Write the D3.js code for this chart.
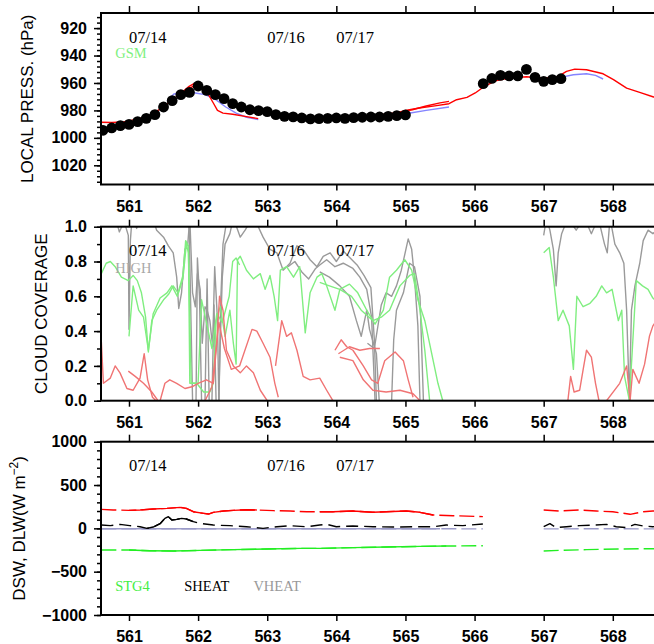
<!DOCTYPE html>
<html>
<head>
<meta charset="utf-8">
<script src="https://cdn.jsdelivr.net/npm/d3@7"></script>
<style>
body { margin: 0; background: #fff; }
svg { display: block; }
.tick text { font-family: "Liberation Sans", Arial, sans-serif; font-size: 16px; font-weight: bold; fill: #000; }
.tick line { stroke: #000; stroke-width: 1.5; }
.title { font-family: "Liberation Sans", Arial, sans-serif; font-size: 17px; }
.note { font-family: "Liberation Serif", "Times New Roman", serif; }
</style>
</head>
<body>
<div id="chart"></div>
<script>
// ---- shared ----
const xTicks = [561, 562, 563, 564, 565, 566, 567, 568];
const dateLabels = ["07/14", "07/16", "07/17"];
const datePos = [561, 563, 564];

// ---- panel 1 : local pressure (hPa), [day, value] ----
const pressObs1 = [[560.625,994.5],[560.75,992.8],[560.875,991.1],[561.0,990.2],[561.125,988.2],[561.25,985.8],[561.375,983.1],[561.5,977.5],[561.625,972.9],[561.75,968.5],[561.875,966.9],[562.0,962.2],[562.125,965.4],[562.25,968.5],[562.375,971.4],[562.5,975.1],[562.625,977.5],[562.75,979.5],[562.875,980.2],[563.0,980.9],[563.125,983.1],[563.25,984.3],[563.375,984.7],[563.5,985.5],[563.625,986.2],[563.75,986.0],[563.875,985.8],[564.0,985.5],[564.125,985.8],[564.25,985.3],[564.375,985.0],[564.5,984.8],[564.625,984.8],[564.75,984.3],[564.875,983.8],[565.0,983.3]];
const pressObs2 = [[566.125,960.5],[566.25,956.7],[566.375,954.5],[566.5,954.9],[566.625,954.9],[566.75,950.1],[566.875,955.9],[567.0,958.8],[567.125,957.6],[567.25,956.9]];
const pressRed1 = [[560.595,988.6],[560.75,988.8],[560.9,988.5],[561.0,987.6],[561.15,986],[561.3,983.5],[561.45,979],[561.6,973.5],[561.75,967.5],[561.87,962.5],[561.94,960.5],[562.05,963.5],[562.15,968.5],[562.22,974.6],[562.28,980],[562.36,982],[562.5,982.8],[562.7,984.5],[562.87,986.0]];
const pressRed2 = [[561.7,969],[561.85,964.5],[561.95,962],[562.1,964.5],[562.3,969.5],[562.5,974.5],[562.7,978.5],[562.9,980.5],[563.1,982.5],[563.4,984.5],[563.8,985.5],[564.2,985],[564.6,983.5],[564.9,981.5],[565.1,979.5],[565.3,976.8],[565.5,974.5],[565.63,973.4]];
const pressRed3 = [[564.5,985],[564.8,983],[565.0,980],[565.2,978.2],[565.45,976.5],[565.63,975.1],[565.74,972.2],[565.89,970.5],[566.01,967.3],[566.13,962.9],[566.3,958.5],[566.5,956.5],[566.75,955.5],[567.0,956.5],[567.2,955.5],[567.33,951.6],[567.45,949.9],[567.62,950.4],[567.86,953.3],[568.01,957.6],[568.2,963.7],[568.4,967],[568.59,970.2],[568.9,974]];
const pressBlue1 = [[561.55,973],[561.65,968],[561.8,967],[561.96,967.3],[562.1,968.5],[562.25,972],[562.4,977.5],[562.55,982],[562.7,985],[562.87,986.7]];
const pressBlue2 = [[564.6,984.5],[564.9,983.5],[565.07,981.9],[565.3,980],[565.63,977.5]];
const pressBlue3 = [[567.26,955.7],[567.43,954],[567.62,953.3],[567.75,954.5],[567.86,957.1]];

// ---- panel 2 : cloud coverage ----
const cloudGray1 = [[560.8,1.06],[560.86,0.97],[560.93,1.03],[560.99,0.95],[561.0,0.41],[561.02,0.92],[561.05,1.08],[561.11,0.99],[561.18,1.08],[561.3,1.1],[561.4,0.98],[561.5,0.94],[561.57,0.89],[561.64,0.85],[561.69,0.71],[561.72,0.53],[561.76,0.62],[561.81,0.87],[561.85,0.9],[561.88,1.05],[561.92,0.62],[561.96,0.54],[561.99,0.73],[562.03,0.64],[562.06,0.33],[562.1,0.54],[562.13,0.52],[562.17,0.46],[562.21,0.31],[562.24,0.77],[562.28,0.46],[562.3,0.0]];
const cloudGray2 = [[561.87,1.0],[561.92,0.0],[561.97,0.0],[561.99,0.82],[562.02,0.6],[562.05,0.0],[562.1,0.0],[562.13,0.7],[562.16,0.0],[562.2,0.0],[562.23,0.55],[562.26,0.0],[562.3,0.0],[562.33,0.6],[562.36,0.9],[562.42,1.05]];
const cloudGray3 = [[562.3,0.0],[562.32,0.33],[562.35,0.71],[562.39,0.9],[562.46,0.96],[562.51,1.05],[562.61,0.94],[562.68,0.98],[562.8,1.06],[562.94,0.94],[563.04,0.87],[563.14,0.85],[563.23,0.75],[563.33,0.79],[563.43,0.89],[563.52,0.87],[563.62,0.81],[563.72,0.77],[563.81,0.83],[563.91,0.85],[564.0,0.8],[564.1,0.86],[564.2,0.82],[564.3,0.78],[564.4,0.72],[564.5,0.65],[564.55,0.35],[564.58,0.0]];
const cloudGray4 = [[563.3,0.77],[563.4,0.8],[563.5,0.74],[563.6,0.7],[563.7,0.76],[563.76,0.78],[563.86,0.81],[563.98,0.77],[564.1,0.79],[564.24,0.76],[564.34,0.71],[564.44,0.64],[564.51,0.48],[564.56,0.0]];
const cloudGray5 = [[563.76,0.74],[563.9,0.71],[564.05,0.66],[564.19,0.6],[564.29,0.46],[564.36,0.37],[564.44,0.52],[564.48,0.41],[564.58,0.27],[564.62,0.0]];
const cloudGray6 = [[564.45,0.33],[564.55,0.3],[564.65,0.55],[564.72,0.62],[564.8,0.6],[564.87,0.66],[564.94,0.75],[565.04,0.93],[565.09,0.87],[565.13,0.71],[565.18,0.43],[565.21,0.0]];
const cloudGray7 = [[564.8,0.0],[564.83,0.35],[564.87,0.52],[564.97,0.62],[565.06,0.79],[565.13,0.77],[565.21,0.6],[565.26,0.0]];
const cloudGray8 = [[567.0,0.95],[567.04,1.05],[567.09,0.98],[567.14,0.87],[567.18,0.66],[567.21,0.85],[567.26,0.96],[567.35,1.05],[567.47,0.98],[567.59,1.05],[567.69,0.96],[567.79,1.05],[567.88,0.9],[567.92,0.85],[567.96,1.05],[568.03,0.9],[568.1,0.85],[568.16,0.79],[568.2,0.52],[568.24,0.0],[568.27,0.52],[568.32,0.66],[568.39,0.79],[568.44,0.92],[568.51,0.98],[568.58,0.96],[568.7,1.0]];

const cloudGreen1 = [[560.6,0.73],[560.67,0.79],[560.73,0.8],[560.8,0.77],[560.89,0.71],[560.99,0.69],[561.06,0.72],[561.12,0.69],[561.18,0.62],[561.24,0.48],[561.28,0.28],[561.33,0.46],[561.4,0.52],[561.5,0.58],[561.57,0.61],[561.64,0.66],[561.71,0.62],[561.78,0.72],[561.82,0.92],[561.86,0.89],[561.88,0.1],[561.98,0.1],[562.08,0.05],[562.17,0.05],[562.22,0.1],[562.26,0.46],[562.32,0.54],[562.39,0.37],[562.46,0.52],[562.51,0.33],[562.55,0.21],[562.57,0.81],[562.61,0.83],[562.7,0.75],[562.8,0.7],[562.9,0.73],[562.97,0.64],[563.04,0.72],[563.1,0.6],[563.15,0.46],[563.19,0.75],[563.28,0.77],[563.38,0.71],[563.47,0.77],[563.55,0.39],[563.62,0.62],[563.72,0.71],[563.79,0.73],[563.86,0.66],[563.98,0.52],[564.05,0.64],[564.19,0.67],[564.31,0.62],[564.44,0.52],[564.56,0.44],[564.68,0.52],[564.77,0.71],[564.87,0.75],[564.99,0.81],[565.09,0.75],[565.18,0.58],[565.28,0.46],[565.38,0.27],[565.47,0.1],[565.54,0.0]];
const cloudGreen2 = [[561.0,0.37],[561.06,0.66],[561.14,0.52],[561.21,0.48],[561.28,0.29],[561.35,0.5],[561.45,0.59],[561.55,0.62],[561.62,0.66],[561.7,0.6],[561.78,0.7],[561.83,0.9],[561.86,0.85],[561.9,0.1],[562.0,0.1],[562.05,0.58],[562.12,0.45],[562.2,0.3],[562.27,0.5],[562.35,0.45],[562.45,0.6],[562.5,0.8],[562.55,0.82],[562.6,0.78]];
const cloudGreen3 = [[563.76,0.68],[563.9,0.66],[564.05,0.64],[564.22,0.6],[564.36,0.52],[564.53,0.46],[564.65,0.48],[564.77,0.52],[564.92,0.66],[565.06,0.72],[565.13,0.73],[565.21,0.52],[565.28,0.29],[565.35,0.0]];
const cloudGreen4 = [[567.0,0.85],[567.08,0.88],[567.14,0.71],[567.21,0.46],[567.28,0.52],[567.37,0.43],[567.43,0.18],[567.48,0.6],[567.57,0.54],[567.67,0.56],[567.76,0.6],[567.84,0.66],[567.91,0.62],[567.99,0.64],[568.08,0.46],[568.13,0.52],[568.17,0.14],[568.24,0.0],[568.34,0.69],[568.43,0.66],[568.51,0.64],[568.58,0.59],[568.7,0.55]];

const cloudRed1 = [[560.6,0.34],[560.63,0.1],[560.73,0.13],[560.8,0.2],[560.87,0.16],[560.97,0.07],[561.06,0.06],[561.16,0.13],[561.22,0.27],[561.27,0.12],[561.34,0.02],[561.39,0.0]];
const cloudRed2 = [[560.99,0.17],[561.09,0.14],[561.21,0.1],[561.33,0.05],[561.42,0.0]];
const cloudRed3 = [[561.45,0.0],[561.52,0.1],[561.59,0.12],[561.69,0.1],[561.81,0.07],[561.91,0.08],[562.0,0.1],[562.12,0.12],[562.22,0.1],[562.27,0.33],[562.31,0.6],[562.36,0.52],[562.41,0.29],[562.51,0.2],[562.61,0.16],[562.7,0.2],[562.8,0.16],[562.9,0.06],[563.0,0.0]];
const cloudRed4 = [[562.1,0.0],[562.2,0.08],[562.3,0.45],[562.38,0.3],[562.48,0.18],[562.6,0.2],[562.78,0.41],[562.85,0.4],[562.94,0.33],[563.04,0.25],[563.11,0.1],[563.16,0.02]];
const cloudRed5 = [[563.12,0.2],[563.21,0.46],[563.28,0.37],[563.35,0.39],[563.43,0.29],[563.52,0.14],[563.62,0.12],[563.76,0.13],[563.86,0.06],[563.95,0.0]];
const cloudRed6 = [[563.98,0.29],[564.07,0.35],[564.15,0.31],[564.24,0.29],[564.39,0.2],[564.51,0.12],[564.6,0.1],[564.7,0.23],[564.85,0.28],[564.97,0.23],[565.04,0.12],[565.11,0.02]];
const cloudRed7 = [[564.03,0.27],[564.19,0.31],[564.34,0.29],[564.48,0.3],[564.63,0.3]];
const cloudRed8 = [[564.05,0.25],[564.24,0.23],[564.39,0.12],[564.53,0.06],[564.72,0.05],[564.92,0.06],[565.11,0.04],[565.21,0.0]];
const cloudRed9 = [[567.35,0.0],[567.39,0.14],[567.44,0.05],[567.52,0.06],[567.58,0.2],[567.62,0.29],[567.69,0.25],[567.75,0.1],[567.8,0.0]];
const cloudRed10 = [[567.91,0.0],[568.1,0.1],[568.2,0.2],[568.25,0.0],[568.29,0.18],[568.38,0.1],[568.46,0.21],[568.53,0.37],[568.58,0.43],[568.7,0.5]];

// ---- panel 3 : fluxes (W m-2) ----
const dswRed = [[560.6,219],[560.77,212],[561.0,208],[561.16,212],[561.35,223],[561.55,231],[561.74,242],[561.83,231],[561.93,192],[562.08,173],[562.15,165],[562.22,185],[562.37,200],[562.51,208],[562.7,215],[562.85,212],[563.09,204],[563.33,200],[563.57,192],[563.76,192],[563.95,192],[564.24,200],[564.53,185],[564.72,192],[565.01,200],[565.21,185],[565.4,154],[565.69,146],[566.12,135]];
const dswRed2 = [[567.0,212],[567.23,200],[567.52,212],[567.76,200],[568.0,192],[568.25,162],[568.44,192],[568.58,200],[568.7,200]];
const sheat = [[560.6,38],[560.73,31],[560.87,46],[561.01,31],[561.16,19],[561.26,0],[561.35,15],[561.45,54],[561.52,115],[561.57,135],[561.62,96],[561.69,104],[561.76,115],[561.83,108],[561.93,77],[562.03,58],[562.22,38],[562.46,31],[562.7,19],[562.94,0],[563.14,19],[563.33,31],[563.57,19],[563.76,38],[563.86,46],[564.0,19],[564.24,27],[564.53,19],[564.82,15],[565.11,19],[565.4,19],[565.59,38],[565.83,31],[566.12,50]];
const sheat2 = [[567.0,19],[567.09,54],[567.18,8],[567.33,19],[567.52,31],[567.72,38],[567.91,46],[568.05,19],[568.2,8],[568.32,46],[568.44,27],[568.58,19],[568.7,25]];
const stg4 = [[560.6,-250],[561.0,-250],[561.3,-258],[561.64,-262],[562.03,-254],[562.51,-246],[562.99,-238],[563.47,-231],[563.76,-231],[564.24,-223],[564.72,-215],[565.21,-208],[565.59,-204],[566.12,-200]];
const stg42 = [[567.0,-262],[567.23,-254],[567.62,-246],[568.1,-238],[568.58,-235],[568.7,-235]];
const vheat = [[560.6,-4],[561.5,-4],[562.5,-6],[563.5,-4],[564.5,-5],[565.5,-5],[566.12,-6]];
const vheat2 = [[567.0,-6],[567.8,-5],[568.7,-6]];
const dswSolid = [[561.0,562.85],[563.6,565.4]];
const sheatSolid = [[561.26,562.0]];
const stg4Solid = [[561.0,565.6]];
const vheatSolid = [[560.6,565.6]];

// ---- layout ----
const width = 654;
const height = 644;

const svg = d3.select("#chart").append("svg")
  .attr("width", width).attr("height", height);

const x = d3.scaleLinear().domain([560.595, 568.9]).range([101, 675]);

function makePanel(id, top, bottom, yDomain, majors, minors, fmt, title, titleX) {
  const g = svg.append("g");
  const y = d3.scaleLinear().domain(yDomain).range([bottom, top]);

  g.append("clipPath").attr("id", id)
    .append("rect")
    .attr("x", x.range()[0]).attr("y", top)
    .attr("width", x.range()[1] - x.range()[0]).attr("height", bottom - top);

  g.append("g").attr("transform", `translate(${x.range()[0]},0)`)
    .call(d3.axisLeft(y).tickValues(minors).tickSize(4).tickFormat(""))
    .call(a => a.select(".domain").remove());
  g.append("g").attr("transform", `translate(${x.range()[0]},0)`)
    .call(d3.axisLeft(y).tickValues(majors).tickSize(7).tickPadding(7).tickFormat(fmt))
    .call(a => a.select(".domain").remove());

  g.append("g").attr("transform", `translate(0,${top})`)
    .call(d3.axisTop(x).tickValues(xTicks).tickSize(7).tickFormat(""))
    .call(a => a.select(".domain").remove());
  g.append("g").attr("transform", `translate(0,${bottom})`)
    .call(d3.axisBottom(x).tickValues(xTicks).tickSize(6).tickPadding(10).tickFormat(d3.format("d")))
    .call(a => a.select(".domain").remove());

  const t = g.append("text").attr("class", "title")
    .attr("transform", `translate(${titleX},${(top + bottom) / 2}) rotate(-90)`)
    .attr("text-anchor", "middle");
  title(t);

  const plot = g.append("g").attr("clip-path", `url(#${id})`);

  g.append("rect")
    .attr("x", x.range()[0]).attr("y", top)
    .attr("width", x.range()[1] - x.range()[0]).attr("height", bottom - top)
    .attr("fill", "none").attr("stroke", "#000").attr("stroke-width", 2);

  g.selectAll(".date").data(dateLabels).join("text")
    .attr("class", "note")
    .attr("x", (d, i) => x(datePos[i])).attr("y", top + 29.5)
    .attr("font-size", 16.5)
    .text(d => d);

  return { g, y, plot, top, bottom };
}

function drawLine(p, data, color, width, dash) {
  const line = d3.line().x(d => x(d[0])).y(d => p.y(d[1]));
  p.plot.append("path")
    .datum(data)
    .attr("fill", "none")
    .attr("stroke", color)
    .attr("stroke-width", width)
    .attr("stroke-dasharray", dash || null)
    .attr("stroke-linejoin", "round")
    .attr("d", line);
}

function legendText(p, label, pos, color, dy) {
  p.g.append("text").attr("class", "note")
    .attr("x", x(pos)).attr("y", p.top + dy)
    .attr("font-size", 14.5)
    .attr("fill", color)
    .text(label);
}

// panel 1
const p1 = makePanel("clip1", 13, 184.5, [1034, 909],
  d3.range(920, 1021, 20), d3.range(912, 1033, 4), d3.format("d"),
  t => t.text("LOCAL PRESS. (hPa)"), 33);

[pressBlue1, pressBlue2, pressBlue3].forEach(s => drawLine(p1, s, "#8484ff", 1.4));
[pressRed1, pressRed2, pressRed3].forEach(s => drawLine(p1, s, "#ff0000", 1.4));

p1.plot.selectAll(".obs").data(pressObs1.concat(pressObs2)).join("circle")
  .attr("cx", d => x(d[0])).attr("cy", d => p1.y(d[1]))
  .attr("r", 5.4).attr("fill", "#000");

legendText(p1, "GSM", 560.8, "#7ff07f", 45);

// panel 2
const p2 = makePanel("clip2", 226.7, 400.7, [0, 1],
  d3.range(0, 1.01, 0.2), d3.range(0, 1.01, 0.1), d3.format(".1f"),
  t => t.text("CLOUD COVERAGE"), 46.5);

[cloudGray1, cloudGray2, cloudGray3, cloudGray4, cloudGray5, cloudGray6, cloudGray7, cloudGray8]
  .forEach(s => drawLine(p2, s, "#9a9a9a", 1.4));
[cloudGreen1, cloudGreen2, cloudGreen3, cloudGreen4]
  .forEach(s => drawLine(p2, s, "#80ee80", 1.4));
[cloudRed1, cloudRed2, cloudRed3, cloudRed4, cloudRed5, cloudRed6, cloudRed7, cloudRed8, cloudRed9, cloudRed10]
  .forEach(s => drawLine(p2, s, "#f07474", 1.4));

legendText(p2, "HIGH", 560.8, "#a8a8a8", 46);

// panel 3
const p3 = makePanel("clip3", 441.7, 615, [-1000, 1000],
  d3.range(-1000, 1001, 500), d3.range(-1000, 1001, 100), d3.format("d"),
  t => {
    t.append("tspan").text("DSW, DLW(W m");
    t.append("tspan").attr("font-size", 12).attr("dy", -7).text("\u22122");
    t.append("tspan").attr("dy", 7).text(")");
  }, 25);

function solidPart(data, ranges) {
  return ranges.map(r => data.filter(d => d[0] >= r[0] - 1e-6 && d[0] <= r[1] + 1e-6));
}

drawLine(p3, vheat, "#9a9ac8", 1.4, "15,5");
drawLine(p3, vheat2, "#9a9ac8", 1.4, "15,5");
solidPart(vheat, vheatSolid).forEach(s => drawLine(p3, s, "#9a9ac8", 1.4));

drawLine(p3, stg4, "#22ee22", 1.4, "15,5");
drawLine(p3, stg42, "#22ee22", 1.4, "15,5");
solidPart(stg4, stg4Solid).forEach(s => drawLine(p3, s, "#22ee22", 1.4));

drawLine(p3, sheat, "#000", 1.4, "12,6");
drawLine(p3, sheat2, "#000", 1.4, "12,6");
solidPart(sheat, sheatSolid).forEach(s => drawLine(p3, s, "#000", 1.4));

drawLine(p3, dswRed, "#ff0000", 1.4, "15,5");
drawLine(p3, dswRed2, "#ff0000", 1.4, "15,5");
solidPart(dswRed, dswSolid).forEach(s => drawLine(p3, s, "#ff0000", 1.4));

legendText(p3, "STG4", 560.8, "#44ee44", 149);
legendText(p3, "SHEAT", 561.8, "#000", 149);
legendText(p3, "VHEAT", 562.8, "#999", 149);
</script>
</body>
</html>
